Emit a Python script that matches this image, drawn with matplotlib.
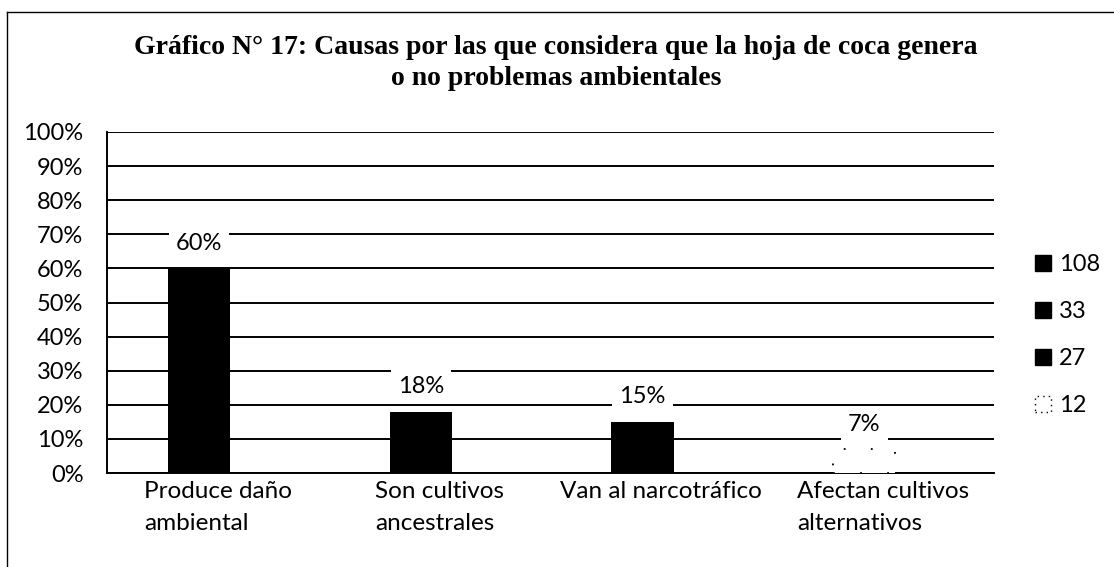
import numpy as np
import matplotlib.pyplot as plt
from matplotlib.patches import Patch
from matplotlib.lines import Line2D

# Data
categories = ["Produce daño\nambiental", "Son cultivos\nancestrales",
              "Van al narcotráfico", "Afectan cultivos\nalternativos"]
percent = [60, 18, 15, 7]
counts = [108, 33, 27, 12]

W, H = 1114, 567
fig = plt.figure(figsize=(W / 100, H / 100), dpi=100)
ax = fig.add_axes([107 / W, 1 - 473 / H, 887 / W, 341 / H])

x = np.arange(len(categories))
facecols = ["black", "black", "black", "white"]
bars = ax.bar(x, percent, width=0.28, color=facecols, zorder=3)
# last bar is washed out in the scan: white with a dotted edge
bars[3].set_edgecolor("black")
bars[3].set_linestyle((0, (1, 14)))
bars[3].set_linewidth(1.3)

ax.set_xlim(-0.415, 3.585)
ax.set_ylim(0, 100)
ax.set_yticks(np.arange(0, 101, 10))
ax.set_yticklabels([f"{v}%" for v in range(0, 101, 10)], fontsize=17, family="Lato")
# category labels sit in the middle of each band, bars are a bit left of it
ax.set_xticks(x + 0.085)
ax.set_xticklabels(categories, fontsize=17.5, family="Lato", ha="center",
                   multialignment="left", va="top", linespacing=1.6)
ax.tick_params(axis="x", length=0, pad=6)
ax.tick_params(axis="y", length=0, pad=17)
ax.grid(axis="y", color="black", linewidth=1.4, zorder=0)
for s in ["top", "right"]:
    ax.spines[s].set_visible(False)
ax.spines["left"].set_linewidth(1.4)
ax.spines["bottom"].set_linewidth(1.4)

for xi, p in zip(x, percent):
    ax.annotate(f"{p}%", (xi, p), xytext=(0, 18), textcoords="offset points",
                ha="center", va="center", fontsize=17, family="Lato", zorder=5,
                bbox=dict(boxstyle="square,pad=0.3", fc="white", ec="none"))

handles = [Patch(facecolor="black", edgecolor="black"),
           Patch(facecolor="black", edgecolor="black"),
           Patch(facecolor="black", edgecolor="black"),
           Patch(facecolor="white", edgecolor="black", linestyle=(0, (1, 3)))]
fig.legend(handles, [str(c) for c in counts], loc="center left",
           bbox_to_anchor=(1014 / W, 1 - 335 / H), frameon=False,
           prop={"family": "Lato", "size": 17}, handlelength=0.65,
           handleheight=0.65, handletextpad=0.35, labelspacing=1.1)

fig.text(556 / W, 1 - 63 / H,
         "Gráfico N° 17: Causas por las que considera que la hoja de coca genera\no no problemas ambientales",
         ha="center", va="center", fontsize=20, fontweight="bold",
         family="Liberation Serif", linespacing=1.3)

# frame of the scanned page: top and left edges only
fig.add_artist(Line2D([7 / W, 1], [1 - 12 / H, 1 - 12 / H], transform=fig.transFigure,
                      color="black", linewidth=1.0))
fig.add_artist(Line2D([7 / W, 7 / W], [0, 1 - 12 / H], transform=fig.transFigure,
                      color="black", linewidth=1.0))

fig.savefig("out.png", dpi=100)
